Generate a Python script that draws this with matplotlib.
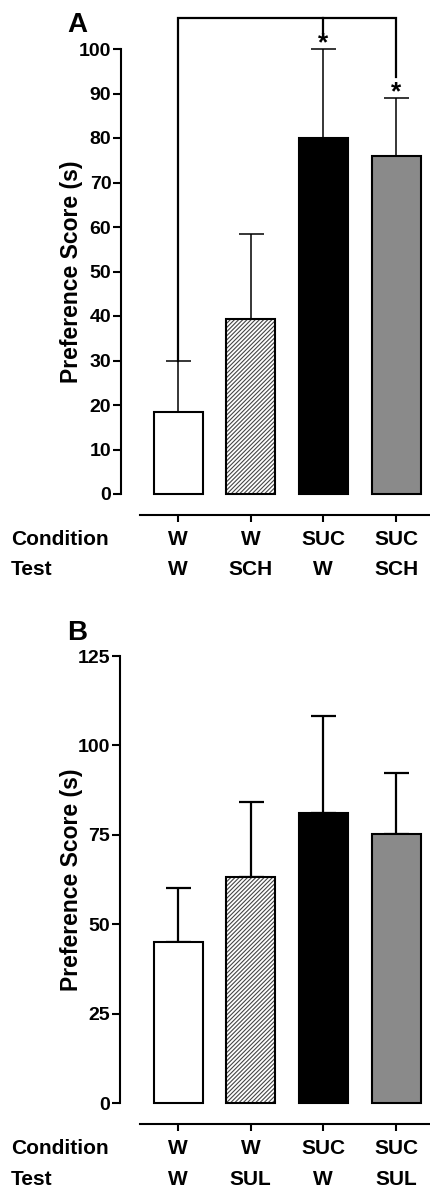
import matplotlib
matplotlib.use("Agg")
import matplotlib.pyplot as plt
import matplotlib.transforms as mtransforms

plt.rcParams['font.family'] = ['Liberation Sans', 'DejaVu Sans']
plt.rcParams['font.weight'] = 'bold'
plt.rcParams['hatch.linewidth'] = 0.8

# ---- data ----
condition_labels = ["W", "W", "SUC", "SUC"]
test_labels_A = ["W", "SCH", "W", "SCH"]
test_labels_B = ["W", "SUL", "W", "SUL"]
mean_A = [18.4, 39.4, 80.1, 76.0]
sem_A = [11.4, 19.1, 19.9, 13.0]
mean_B = [45.0, 63.2, 81.2, 75.2]
sem_B = [15.0, 21.0, 27.0, 17.0]
yticks_A = [0, 10, 20, 30, 40, 50, 60, 70, 80, 90, 100]
yticks_B = [0, 25, 50, 75, 100, 125]
sig_bars_A = [2, 3]

W, H = 430, 1189
fig = plt.figure(figsize=(W / 100, H / 100), dpi=100)

bar_fill = ['white', 'white', 'black', '#8a8a8a']
bar_hatch = [None, '////////', None, None]


def fy(py):
    return 1 - py / H


def make_panel(rect_px, ymax, yticks, means, sems, tests, cond_base, test_base, elw):
    left, top, bottom = rect_px
    ax = fig.add_axes([left / W, fy(bottom), (W - left) / W, (bottom - top) / H])
    # x scaling: bar centers at 178 and 396 px
    c0, c3 = 178.0, 396.0
    step = (c3 - c0) / 3
    ax.set_xlim((left - c0) / step, (W - c0) / step)
    ax.set_ylim(0, ymax)
    xs = list(range(len(means)))
    bw = 49 / step
    ax.errorbar(xs, means, yerr=[[0] * len(sems), sems], fmt='none', ecolor='black',
                elinewidth=elw, capsize=9, capthick=elw, zorder=1, clip_on=False)
    for i, (x, m) in enumerate(zip(xs, means)):
        if bar_hatch[i]:
            ax.bar(x, m, width=bw, color='white', edgecolor='#444444', hatch=bar_hatch[i],
                   linewidth=0, zorder=2, clip_on=False)
            ax.bar(x, m, width=bw, fill=False, edgecolor='black', linewidth=1.5,
                   zorder=3, clip_on=False)
        else:
            ax.bar(x, m, width=bw, color=bar_fill[i], edgecolor='black', linewidth=1.5,
                   zorder=3, clip_on=False)
    for s in ['top', 'right']:
        ax.spines[s].set_visible(False)
    ax.spines['left'].set_linewidth(1.5)
    ax.spines['bottom'].set_linewidth(1.5)
    ax.spines['bottom'].set_position(('outward', 15))
    ax.spines['bottom'].set_bounds((140 - c0) / step, (W - c0) / step)
    ax.set_yticks(yticks)
    ax.set_yticklabels([str(t) for t in yticks], fontsize=14, fontweight='bold')
    ax.tick_params(axis='y', length=5.5, width=1.5, pad=1.5)
    ax.set_xticks(xs)
    ax.set_xticklabels([''] * len(xs))
    ax.tick_params(axis='x', length=5, width=1.5)
    ax.set_ylabel('Preference Score (s)', fontsize=16.5, fontweight='bold')
    ax.yaxis.set_label_coords(-(left - 83) / (W - left), 0.5)
    trans = mtransforms.blended_transform_factory(ax.transData, fig.transFigure)
    for x, c, t in zip(xs, condition_labels, tests):
        ax.text(x, fy(cond_base), c, transform=trans, ha='center', va='baseline',
                fontsize=15, fontweight='bold')
        ax.text(x, fy(test_base), t, transform=trans, ha='center', va='baseline',
                fontsize=15, fontweight='bold')
    fig.text(11 / W, fy(cond_base), 'Condition', ha='left', va='baseline', fontsize=15,
             fontweight='bold')
    fig.text(11 / W, fy(test_base), 'Test', ha='left', va='baseline', fontsize=15,
             fontweight='bold')
    return ax


axA = make_panel((121, 49, 494), 100, yticks_A, mean_A, sem_A, test_labels_A, 545, 575, 1.1)
axB = make_panel((120, 656, 1103), 125, yticks_B, mean_B, sem_B, test_labels_B, 1154, 1185, 1.6)

# significance bracket in A
top_y = 107.0
tops = [m + s for m, s in zip(mean_A, sem_A)]
axA.plot([0, 0, 3, 3], [tops[0], top_y, top_y, tops[3] + 4.7], color='black', lw=1.6,
         clip_on=False, solid_joinstyle='miter', zorder=4)
axA.plot([2, 2], [top_y, top_y - 3.4], color='black', lw=1.6, clip_on=False, zorder=4)
for i in sig_bars_A:
    axA.text(i, tops[i] - 0.4, '*', ha='center', va='baseline', fontsize=19,
             fontweight='bold', clip_on=False)

fig.text(67 / W, fy(32), 'A', ha='left', va='baseline', fontsize=20, fontweight='bold')
fig.text(67 / W, fy(640), 'B', ha='left', va='baseline', fontsize=20, fontweight='bold')

fig.savefig('out.png', dpi=100)
